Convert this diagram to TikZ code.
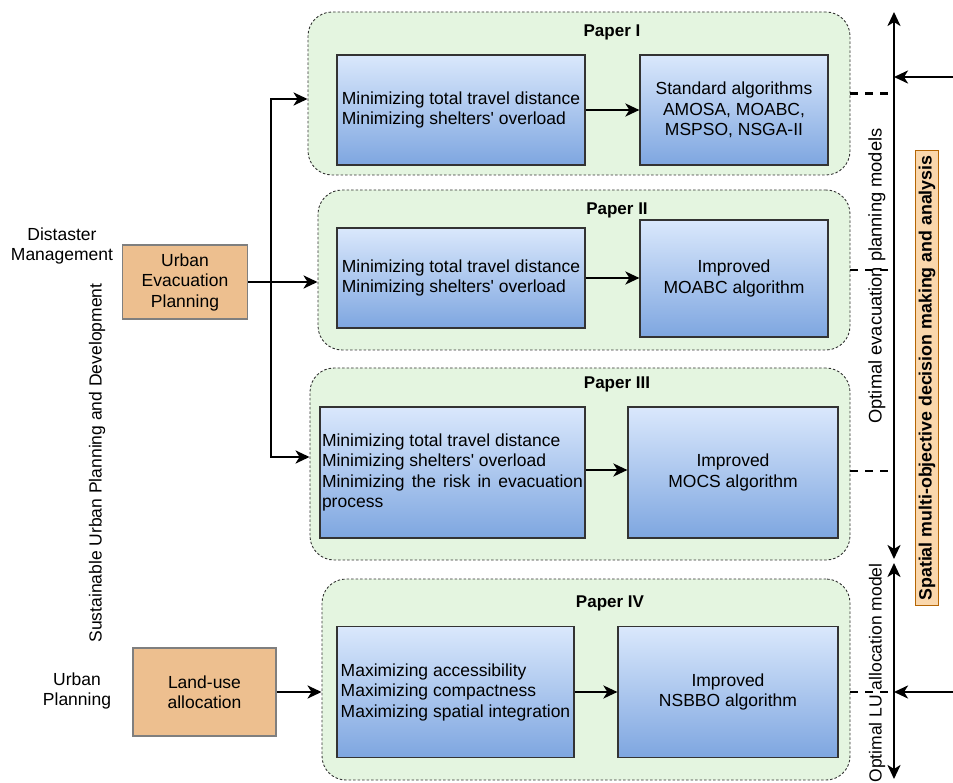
\documentclass[tikz,border=0pt]{standalone}
\usepackage{fontspec}
\setmainfont{Liberation Sans}
\usetikzlibrary{arrows.meta,calc}
\definecolor{cfill}{HTML}{E4F5E0}
\definecolor{cline}{HTML}{333333}
\definecolor{blueT}{HTML}{DAE8FC}
\definecolor{blueB}{HTML}{7EA6E0}
\definecolor{orfill}{HTML}{EDBF8F}
\definecolor{orline}{HTML}{7F7F7F}
\definecolor{spfill}{HTML}{FAD7AC}
\definecolor{spline}{HTML}{B46504}
\tikzset{
  txt/.style={font=\fontsize{17.5}{20.5}\selectfont, inner sep=0pt},
  container/.style={draw=cline, fill=cfill, line width=0.9pt, dash pattern=on 2.5pt off 2pt, rounded corners=24pt},
  title/.style={font=\bfseries\fontsize{17}{20}\selectfont, inner sep=0pt},
  bluebox/.style={draw=cline, line width=1.2pt, top color=blueT, bottom color=blueB, font=\fontsize{17.5}{20.5}\selectfont, align=left, inner sep=2pt},
  orbox/.style={draw=orline, line width=1.2pt, fill=orfill, font=\fontsize{17.5}{20.5}\selectfont, align=center, inner sep=0pt},
  arr/.style={line width=2.8pt, -{Stealth[length=14pt,width=13pt,inset=4pt]}},
  darr/.style={line width=2.8pt, {Stealth[length=14pt,width=13pt,inset=4pt]}-{Stealth[length=14pt,width=13pt,inset=4pt]}},
  dsh/.style={line width=2.5pt, dash pattern=on 8pt off 7pt}
}
\newcommand{\sq}{\textquotesingle}
\begin{document}
\begin{tikzpicture}[x=1pt,y=-1pt]
\useasboundingbox (0,0) rectangle (953,783);

% containers
\node[container, minimum width=542pt, minimum height=163pt] (p1) at (579,93.5) {};
\node[container, minimum width=532pt, minimum height=160pt] (p2) at (584,270) {};
\node[container, minimum width=540pt, minimum height=192pt] (p3) at (580,464) {};
\node[container, minimum width=528pt, minimum height=201pt] (p4) at (586,679.5) {};

\node[title] (t1) at (612,32) {Paper I};
\node[title] (t2) at (617,210) {Paper II};
\node[title] (t3) at (617,384) {Paper III};
\node[title] (t4) at (610,603) {Paper IV};

% Paper I
\node[bluebox, minimum width=248pt, minimum height=110pt] (a1) at (461,110) {Minimizing total travel distance\\Minimizing shelters\sq\ overload};
\node[bluebox, align=center, minimum width=188pt, minimum height=110pt] (b1) at (734,110) {Standard algorithms\\AMOSA, MOABC,\\MSPSO, NSGA-II};
% Paper II
\node[bluebox, minimum width=248pt, minimum height=100pt] (a2) at (461,278) {Minimizing total travel distance\\Minimizing shelters\sq\ overload};
\node[bluebox, align=center, minimum width=188pt, minimum height=117pt] (b2) at (734,278.5) {Improved\\MOABC algorithm};
% Paper III
\node[bluebox, align=justify, text width=261pt, inner sep=2pt, minimum height=131pt] (a3) at (452.5,472.5) {\hyphenpenalty=10000 Minimizing total travel distance\\Minimizing shelters\sq\ overload\\Minimizing the risk in evacuation process};
\node[bluebox, align=center, minimum width=210pt, minimum height=131pt] (b3) at (733,472.5) {Improved\\MOCS algorithm};
% Paper IV
\node[bluebox, minimum width=237pt, minimum height=131pt] (a4) at (455.5,692) {Maximizing accessibility\\Maximizing compactness\\Maximizing spatial integration};
\node[bluebox, align=center, minimum width=220pt, minimum height=131pt] (b4) at (728,692) {Improved\\NSBBO algorithm};

\draw[arr] (a1.east) -- (b1.west |- a1.east);
\draw[arr] (a2.east) -- (b2.west |- a2.east);
\draw[arr] (a3.east |- 0,470) -- (b3.west |- 0,470);
\draw[arr] (a4.east) -- (b4.west |- a4.east);

% left side
\node[txt, align=center] (dm) at (62,246) {Distaster\\Management};
\node[orbox, minimum width=125pt, minimum height=74pt] (uep) at (185,282) {Urban\\Evacuation\\Planning};
\node[txt, align=center] (up) at (77,691) {Urban\\Planning};
\node[orbox, minimum width=143pt, minimum height=88pt] (lu) at (204.5,692) {Land-use\\allocation};
\node[txt, rotate=90] (sud) at (97,463) {Sustainable Urban Planning and Development};

\coordinate (j) at (271,282);
\draw[arr] (uep.east) -- (p2.west |- uep.east);
\draw[arr] (j) |- ([yshift=-5.5pt]p1.west);
\draw[arr] (j) |- ([yshift=7pt]p3.west);
\draw[arr] (lu.east) -- (p4.west |- lu.east);

% right side
\coordinate (A) at (894,12);
\coordinate (B) at (894,559);
\coordinate (C) at (894,563);
\coordinate (D) at (894,779);
\coordinate (R1) at (953,77);
\coordinate (R2) at (953,692);
\draw[darr] (A) -- (B);
\draw[darr] (C) -- (D);
\draw[arr] (R1) -- (A |- R1);
\draw[arr] (R2) -- (A |- R2);

\draw[dsh] (p1.east) -- (A |- p1.east);
\draw[dsh] (p2.east) -- (A |- p2.east);
\draw[dsh] ([yshift=-7pt]p3.east) -- (A |- 0,471);
\draw[dsh] ([yshift=-12.5pt]p4.east) -- (A |- 0,692);

\node[txt, font=\fontsize{18.3}{21}\selectfont, rotate=90] (oe) at (877,276) {Optimal evacuation planning models};
\node[txt, rotate=90] (ol) at (877,673) {Optimal LU allocation model};
\node[draw=spline, fill=spfill, line width=1pt, rotate=90, font=\bfseries\fontsize{17.8}{20}\selectfont, inner xsep=5pt, inner ysep=3pt] (sp) at (927,378) {Spatial multi-objective decision making and analysis};
\end{tikzpicture}
\end{document}
